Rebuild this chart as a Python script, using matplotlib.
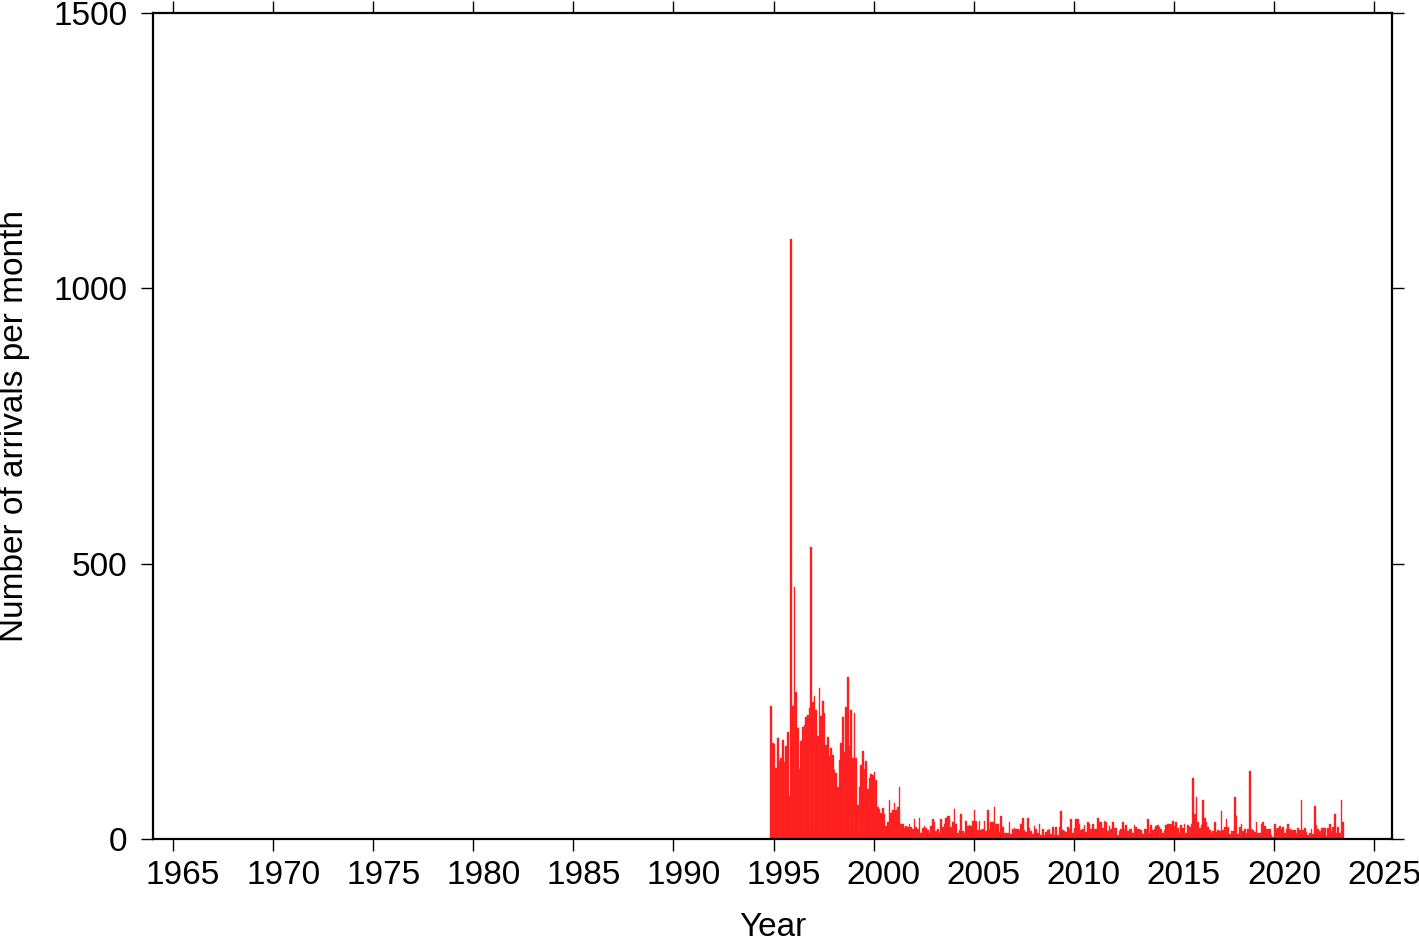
import numpy as np
import matplotlib
matplotlib.use("Agg")
import matplotlib.pyplot as plt
import matplotlib.transforms as mtransforms

plt.rcParams['font.family'] = ['Liberation Sans', 'DejaVu Sans']

# Monthly arrival counts, starting November 1994
start_year = 1994
start_month = 11
counts = [
    241, 175, 172, 129, 183, 141, 147, 180, 140, 169, 194, 78, 1089, 241, 458, 267,
    201, 128, 178, 204, 207, 222, 226, 238, 531, 248, 260, 235, 187, 275, 223, 251,
    229, 170, 185, 150, 165, 153, 125, 120, 95, 143, 174, 221, 158, 239, 295, 169,
    234, 148, 228, 148, 61, 94, 134, 159, 127, 142, 91, 111, 118, 117, 122, 108,
    58, 55, 48, 56, 45, 24, 30, 70, 48, 53, 65, 53, 59, 95,
    27, 27, 20, 24, 22, 27, 22, 19, 37, 21, 18, 38, 11, 20, 24, 20, 16, 11, 24, 37,
    31, 14, 19, 11, 37, 22, 27, 38, 41, 41, 21, 30, 55, 27, 11, 16, 45, 14, 11, 33,
    24, 25, 24, 32, 53,
    32, 16, 32, 16, 19, 32, 15, 53, 19, 31, 31, 59, 28, 27, 13, 41, 22, 11, 11, 11,
    30, 9, 19, 20, 19, 18, 16, 28, 39, 16, 13, 39, 20, 14, 9, 24, 19, 10, 28, 8,
    18, 7, 13, 16, 19, 9, 21, 8, 21, 8, 21, 51, 16, 15, 13, 22, 19,
    36, 11, 20, 36, 36, 27, 16, 18, 26, 13, 30, 27, 19, 27, 18, 18, 38, 31, 30, 20,
    32, 30, 15, 24, 18, 31, 20, 20, 8, 14, 18, 30, 19, 26, 14, 19, 19, 11, 25, 22,
    19, 19, 16, 9, 18, 18, 37, 11, 26, 16, 19, 24, 25, 22,
    19, 10, 16, 26, 28, 27, 28, 32, 24, 30, 20, 11, 26, 20, 27, 10, 25, 21, 28, 111,
    45, 76, 31, 20, 26, 71, 39, 30, 22, 16, 10, 15, 31, 13, 16, 14, 51, 16, 22, 36,
    21, 9, 14, 14, 77, 42, 9, 22, 27, 14, 18, 11, 18, 123, 18, 16, 13,
    31, 11, 11, 28, 31, 24, 18, 18, 18, 7, 4, 27, 19, 20, 24, 18, 21, 11, 19, 27,
    18, 16, 16, 16, 11, 20, 16, 70, 16, 20, 13, 7, 11, 18, 9, 60, 26, 19, 15, 20,
    20, 20, 5, 20, 27, 14, 21, 45, 11, 21, 11, 71, 31,
]
x_ticks = list(range(1965, 2030, 5))
y_ticks = [0, 500, 1000, 1500]
x_label = "Year"
y_label = "Number of arrivals per month"

months = np.arange(len(counts))
t = start_year + (start_month - 1) / 12.0 + months / 12.0

W, H = 1419, 942
fig = plt.figure(figsize=(W / 100, H / 100), dpi=100)
ax = fig.add_axes([153 / W, 1 - 839 / H, (1392 - 153) / W, (839 - 13) / H])

ax.bar(t, counts, width=1 / 12.0, align='edge', color='#ff1a1a', edgecolor='#ff3030',
       linewidth=0.3)

ax.set_xlim(1964, 2025.9)
ax.set_ylim(0, 1500)
ax.set_xticks(x_ticks)
ax.set_yticks(y_ticks)
ax.tick_params(axis='both', direction='out', length=8.3, width=1.0, labelsize=24,
               top=True, right=True, labeltop=False, labelright=False)
ax.tick_params(axis='x', pad=7)
ax.tick_params(axis='y', pad=10)
for s in ax.spines.values():
    s.set_linewidth(1.6)

# x tick labels sit slightly right of their ticks in the reference
offset = mtransforms.ScaledTranslation(10 / 100, 0, fig.dpi_scale_trans)
for lab in ax.get_xticklabels():
    lab.set_transform(lab.get_transform() + offset)

fig.text(773 / W, 1 - 928 / H, x_label, fontsize=24, ha='center', va='center')
fig.text(15 / W, 1 - 426 / H, y_label, fontsize=24, ha='center', va='center',
         rotation=90)

fig.savefig("out.png", dpi=100)
